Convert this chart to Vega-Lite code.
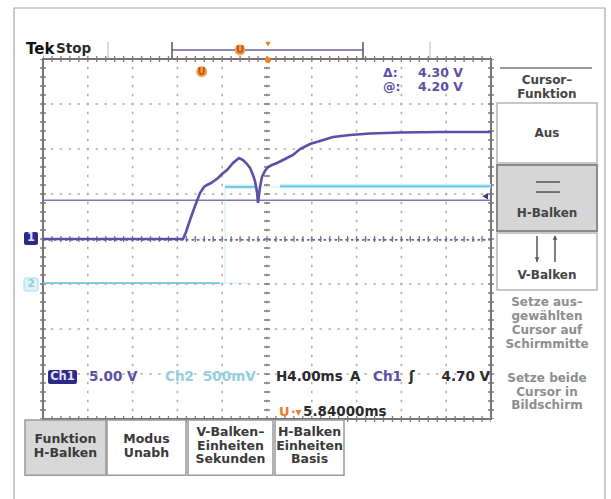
{
  "$schema": "https://vega.github.io/schema/vega-lite/v6.json",
  "width": 611,
  "height": 499,
  "padding": 0,
  "autosize": {"type": "fit", "contains": "padding"},
  "background": "#ffffff",
  "config": {"view": {"stroke": null}},
  "datasets": {
    "frame": [{"x": -5.647, "x2": 7.545, "y": 5.133, "y2": -6}],
    "border": [{"x": -5, "x2": 5, "y": 4, "y2": -4}],
    "gridH": [{"x": -5, "x2": 5, "y": -3}, {"x": -5, "x2": 5, "y": -2}, {"x": -5, "x2": 5, "y": -1}, {"x": -5, "x2": 5, "y": 0}, {"x": -5, "x2": 5, "y": 1}, {"x": -5, "x2": 5, "y": 2}, {"x": -5, "x2": 5, "y": 3}],
    "gridV": [{"x": -4, "y": -4, "y2": 4}, {"x": -3, "y": -4, "y2": 4}, {"x": -2, "y": -4, "y2": 4}, {"x": -1, "y": -4, "y2": 4}, {"x": 0, "y": -4, "y2": 4}, {"x": 1, "y": -4, "y2": 4}, {"x": 2, "y": -4, "y2": 4}, {"x": 3, "y": -4, "y2": 4}, {"x": 4, "y": -4, "y2": 4}],
    "tickH": [{"x": -5, "x2": 5, "y": 4}, {"x": -5, "x2": 5, "y": -4}, {"x": -5, "x2": 5, "y": 0}],
    "tickV": [{"x": -5, "y": -4, "y2": 4}, {"x": 5, "y": -4, "y2": 4}, {"x": 0, "y": -4, "y2": 4}],
    "barLightV": [{"x": -3.549, "y": 4.378, "y2": 4.022}, {"x": 3.638, "y": 4.378, "y2": 4.022}],
    "barDarkV": [{"x": -2.121, "y": 4.378, "y2": 4.022}, {"x": 2.143, "y": 4.378, "y2": 4.022}],
    "barH": [{"x": -2.121, "x2": 2.143, "y": 4.2}],
    "cur1": [{"x": -5, "x2": 5, "y": 0.86}],
    "cur2": [{"x": -5, "x2": 5, "y": -0.02}],
    "ch1": [
      {"x": -5.0, "y": 0}, {"x": -1.875, "y": 0}, {"x": -1.808, "y": 0.156}, {"x": -1.719, "y": 0.422},
      {"x": -1.607, "y": 0.733}, {"x": -1.496, "y": 1.022}, {"x": -1.406, "y": 1.156}, {"x": -1.339, "y": 1.2},
      {"x": -1.25, "y": 1.244}, {"x": -1.183, "y": 1.289}, {"x": -1.094, "y": 1.356}, {"x": -1.004, "y": 1.444},
      {"x": -0.893, "y": 1.533}, {"x": -0.759, "y": 1.689}, {"x": -0.625, "y": 1.8}, {"x": -0.536, "y": 1.756},
      {"x": -0.446, "y": 1.667}, {"x": -0.379, "y": 1.578}, {"x": -0.3125, "y": 1.422}, {"x": -0.268, "y": 1.289},
      {"x": -0.223, "y": 1.044}, {"x": -0.201, "y": 0.8}, {"x": -0.179, "y": 0.978}, {"x": -0.156, "y": 1.156},
      {"x": -0.112, "y": 1.378}, {"x": -0.045, "y": 1.511}, {"x": 0.022, "y": 1.6}, {"x": 0.112, "y": 1.644},
      {"x": 0.223, "y": 1.689}, {"x": 0.402, "y": 1.778}, {"x": 0.58, "y": 1.867}, {"x": 0.737, "y": 2.0},
      {"x": 0.96, "y": 2.111}, {"x": 1.183, "y": 2.178}, {"x": 1.473, "y": 2.267}, {"x": 1.853, "y": 2.311},
      {"x": 2.299, "y": 2.344}, {"x": 2.969, "y": 2.367}, {"x": 3.862, "y": 2.378}, {"x": 5.0, "y": 2.378}
    ],
    "ch2": [
      {"seg": "a", "x": -5, "y": -0.98}, {"seg": "a", "x": -1.05, "y": -0.98},
      {"seg": "b", "x": -0.9375, "y": 1.16}, {"seg": "b", "x": -0.223, "y": 1.16},
      {"seg": "c", "x": 0.29, "y": 1.17}, {"seg": "c", "x": 5, "y": 1.17}
    ],
    "ch2faintH": [{"x": -1.05, "x2": -0.4, "y": -0.98}, {"x": -0.223, "x2": 0.29, "y": 1.16}],
    "ch2faintV": [{"x": -0.9375, "y": -0.98, "y2": 1.16}],
    "panelLine": [{"x": 5.201, "x2": 7.254, "y": 3.8}],
    "hIcon": [{"x": 6.004, "x2": 6.54, "y": 1.267}, {"x": 6.004, "x2": 6.54, "y": 1.044}],
    "vIcon": [{"x": 6.027, "y": 0.067, "y2": -0.511}, {"x": 6.429, "y": 0.067, "y2": -0.511}],
    "panelWhite": [{"x": 5.134, "x2": 7.366, "y": 3.022, "y2": 1.689}, {"x": 5.134, "x2": 7.366, "y": 0.133, "y2": -1.133}],
    "panelGray": [{"x": 5.134, "x2": 7.366, "y": 1.644, "y2": 0.178}],
    "btnGray": [{"x": -5.402, "x2": -3.594, "y": -4.022, "y2": -5.25}],
    "btnWhite": [{"x": -3.571, "x2": -1.808, "y": -4.022, "y2": -5.25}, {"x": -1.763, "x2": 0.134, "y": -4.022, "y2": -5.25}, {"x": 0.179, "x2": 1.719, "y": -4.022, "y2": -5.25}],
    "navyBox": [{"x": -5.424, "x2": -5.112, "y": 0.156, "y2": -0.133}, {"x": -4.888, "x2": -4.241, "y": -2.911, "y2": -3.222}],
    "cyanBox": [{"x": -5.424, "x2": -5.112, "y": -0.867, "y2": -1.156}],
    "orangeCircle": [{"x": -1.458, "y": 3.718}, {"x": -0.603, "y": 4.2}],
    "orangeTri": [{"x": 0.022, "y": 4.333}],
    "orangeDot": [{"x": 0.022, "y": 3.978}],
    "trigArrow": [{"x": 4.87, "y": 0.95}],
    "arrowDown": [{"x": 6.027, "y": -0.45}],
    "arrowUp": [{"x": 6.429, "y": 0.03}],
    "tTek": [{"x": -5.379, "y": 4.222, "t": "Tek"}],
    "tDarkLeft": [
      {"x": -4.71, "y": 4.222, "t": "Stop"},
      {"x": 0.201, "y": -3.067, "t": "H4.00ms"},
      {"x": 1.853, "y": -3.067, "t": "A"},
      {"x": 3.17, "y": -3.067, "t": "ʃ"},
      {"x": 0.804, "y": -3.844, "t": "5.84000ms"}
    ],
    "tDarkRight": [{"x": 4.978, "y": -3.067, "t": "4.70 V"}],
    "tPurpleSmallL": [{"x": 2.589, "y": 3.689, "t": "Δ:"}, {"x": 2.589, "y": 3.378, "t": "@:"}],
    "tPurpleSmallR": [{"x": 4.375, "y": 3.689, "t": "4.30 V"}, {"x": 4.375, "y": 3.378, "t": "4.20 V"}],
    "tPurple": [{"x": -3.973, "y": -3.067, "t": "5.00 V"}, {"x": 2.366, "y": -3.067, "t": "Ch1"}],
    "tCyan": [{"x": -2.277, "y": -3.067, "t": "Ch2"}, {"x": -1.429, "y": -3.067, "t": "500mV"}],
    "tWhite": [{"x": -5.268, "y": 0.022, "t": "1"}, {"x": -4.565, "y": -3.067, "t": "Ch1"}],
    "tCyanMark": [{"x": -5.268, "y": -1.011, "t": "2"}],
    "tOrangeU": [{"x": -1.458, "y": 3.718, "t": "U"}, {"x": -0.603, "y": 4.2, "t": "U"}],
    "tOrangeBottom": [{"x": 0.268, "y": -3.844, "t": "U"}],
    "tOrangeArrow": [{"x": 0.536, "y": -3.844, "t": "·▾"}],
    "tButtons": [
      {"x": -4.498, "y": -4.44, "t": "Funktion"}, {"x": -4.498, "y": -4.75, "t": "H-Balken"},
      {"x": -2.69, "y": -4.44, "t": "Modus"}, {"x": -2.69, "y": -4.75, "t": "Unabh"},
      {"x": -0.815, "y": -4.28, "t": "V-Balken–"}, {"x": -0.815, "y": -4.59, "t": "Einheiten"}, {"x": -0.815, "y": -4.9, "t": "Sekunden"},
      {"x": 0.949, "y": -4.28, "t": "H-Balken"}, {"x": 0.949, "y": -4.59, "t": "Einheiten"}, {"x": 0.949, "y": -4.9, "t": "Basis"}
    ],
    "tPanelDark": [
      {"x": 6.25, "y": 3.533, "t": "Cursor–"}, {"x": 6.25, "y": 3.222, "t": "Funktion"},
      {"x": 6.25, "y": 2.356, "t": "Aus"}, {"x": 6.25, "y": 0.578, "t": "H-Balken"}, {"x": 6.25, "y": -0.8, "t": "V-Balken"}
    ],
    "tPanelGray": [
      {"x": 6.25, "y": -1.4, "t": "Setze aus–"}, {"x": 6.25, "y": -1.711, "t": "gewählten"},
      {"x": 6.25, "y": -2.022, "t": "Cursor auf"}, {"x": 6.25, "y": -2.333, "t": "Schirmmitte"},
      {"x": 6.25, "y": -3.089, "t": "Setze beide"}, {"x": 6.25, "y": -3.4, "t": "Cursor in"},
      {"x": 6.25, "y": -3.689, "t": "Bildschirm"}
    ]
  },
  "encoding": {
    "x": {"field": "x", "type": "quantitative", "scale": {"domain": [-5.9598, 7.6786], "nice": false, "zero": false}, "axis": null},
    "y": {"field": "y", "type": "quantitative", "scale": {"domain": [-5.7778, 5.3111], "nice": false, "zero": false}, "axis": null}
  },
  "layer": [
    {"data": {"name": "frame"}, "mark": {"type": "rect", "fill": null, "stroke": "#a8a8a8", "strokeWidth": 1.2, "clip": true}, "encoding": {"x2": {"field": "x2"}, "y2": {"field": "y2"}}},
    {"data": {"name": "gridH"}, "mark": {"type": "rule", "color": "#b3adad", "strokeWidth": 1.6, "strokeDash": [2.5, 6.46], "strokeDashOffset": 1.25}, "encoding": {"x2": {"field": "x2"}}},
    {"data": {"name": "gridV"}, "mark": {"type": "rule", "color": "#b3adad", "strokeWidth": 1.6, "strokeDash": [2.5, 6.5], "strokeDashOffset": 1.25}, "encoding": {"y2": {"field": "y2"}}},
    {"data": {"name": "tickH"}, "mark": {"type": "rule", "color": "#7f7878", "strokeWidth": 6, "strokeDash": [1.3, 7.66], "strokeDashOffset": 0.65}, "encoding": {"x2": {"field": "x2"}}},
    {"data": {"name": "tickV"}, "mark": {"type": "rule", "color": "#7f7878", "strokeWidth": 6, "strokeDash": [1.3, 7.7], "strokeDashOffset": 0.65}, "encoding": {"y2": {"field": "y2"}}},
    {"data": {"name": "border"}, "mark": {"type": "rect", "fill": null, "stroke": "#7a7373", "strokeWidth": 2}, "encoding": {"x2": {"field": "x2"}, "y2": {"field": "y2"}}},
    {"data": {"name": "barLightV"}, "mark": {"type": "rule", "color": "#cfcfcf", "strokeWidth": 1.5}, "encoding": {"y2": {"field": "y2"}}},
    {"data": {"name": "barH"}, "mark": {"type": "rule", "color": "#8c88b6", "strokeWidth": 2}, "encoding": {"x2": {"field": "x2"}}},
    {"data": {"name": "barDarkV"}, "mark": {"type": "rule", "color": "#555555", "strokeWidth": 1.5}, "encoding": {"y2": {"field": "y2"}}},
    {"data": {"name": "cur1"}, "mark": {"type": "rule", "color": "#7f77bd", "strokeWidth": 1.6}, "encoding": {"x2": {"field": "x2"}}},
    {"data": {"name": "cur2"}, "mark": {"type": "rule", "color": "#6a62b0", "strokeWidth": 1.6, "strokeDash": [2.5, 3]}, "encoding": {"x2": {"field": "x2"}}},
    {"data": {"name": "ch2faintH"}, "mark": {"type": "rule", "color": "#9fd8e6", "strokeWidth": 1.5, "opacity": 0.3}, "encoding": {"x2": {"field": "x2"}}},
    {"data": {"name": "ch2faintV"}, "mark": {"type": "rule", "color": "#9fd8e6", "strokeWidth": 1.5, "opacity": 0.3}, "encoding": {"y2": {"field": "y2"}}},
    {"data": {"name": "ch2"}, "transform": [{"filter": "datum.seg != 'a'"}], "mark": {"type": "line", "color": "#cdeef5", "strokeWidth": 4.5}, "encoding": {"detail": {"field": "seg"}}},
    {"data": {"name": "ch2"}, "mark": {"type": "line", "color": "#6cc5d9", "strokeWidth": 1.8}, "encoding": {"detail": {"field": "seg"}}},
    {"data": {"name": "ch1"}, "mark": {"type": "line", "color": "#5a50a8", "strokeWidth": 2.6}, "encoding": {}},
    {"data": {"name": "trigArrow"}, "mark": {"type": "point", "shape": "triangle-left", "filled": true, "color": "#3c3690", "size": 45, "opacity": 1}, "encoding": {}},
    {"data": {"name": "orangeCircle"}, "mark": {"type": "point", "shape": "circle", "filled": true, "color": "#f3a24c", "size": 120, "opacity": 1}, "encoding": {}},
    {"data": {"name": "orangeTri"}, "mark": {"type": "point", "shape": "triangle-down", "filled": true, "color": "#ef7f22", "size": 30, "opacity": 1}, "encoding": {}},
    {"data": {"name": "orangeDot"}, "mark": {"type": "point", "shape": "circle", "filled": true, "color": "#ef7f22", "size": 35, "opacity": 1}, "encoding": {}},
    {"data": {"name": "panelWhite"}, "mark": {"type": "rect", "fill": "#ffffff", "stroke": "#b5b5b5", "strokeWidth": 1.5}, "encoding": {"x2": {"field": "x2"}, "y2": {"field": "y2"}}},
    {"data": {"name": "panelGray"}, "mark": {"type": "rect", "fill": "#d6d6d6", "stroke": "#8a8a8a", "strokeWidth": 2}, "encoding": {"x2": {"field": "x2"}, "y2": {"field": "y2"}}},
    {"data": {"name": "panelLine"}, "mark": {"type": "rule", "color": "#9a9a9a", "strokeWidth": 2}, "encoding": {"x2": {"field": "x2"}}},
    {"data": {"name": "hIcon"}, "mark": {"type": "rule", "color": "#555555", "strokeWidth": 1.5}, "encoding": {"x2": {"field": "x2"}}},
    {"data": {"name": "vIcon"}, "mark": {"type": "rule", "color": "#555555", "strokeWidth": 1.5}, "encoding": {"y2": {"field": "y2"}}},
    {"data": {"name": "arrowDown"}, "mark": {"type": "point", "shape": "triangle-down", "filled": true, "color": "#555555", "size": 22, "opacity": 1}, "encoding": {}},
    {"data": {"name": "arrowUp"}, "mark": {"type": "point", "shape": "triangle-up", "filled": true, "color": "#555555", "size": 22, "opacity": 1}, "encoding": {}},
    {"data": {"name": "btnGray"}, "mark": {"type": "rect", "fill": "#d8d8d8", "stroke": "#9a9a9a", "strokeWidth": 1.5}, "encoding": {"x2": {"field": "x2"}, "y2": {"field": "y2"}}},
    {"data": {"name": "btnWhite"}, "mark": {"type": "rect", "fill": "#ffffff", "stroke": "#9a9a9a", "strokeWidth": 1.5}, "encoding": {"x2": {"field": "x2"}, "y2": {"field": "y2"}}},
    {"data": {"name": "navyBox"}, "mark": {"type": "rect", "fill": "#2e2a86", "cornerRadius": 2}, "encoding": {"x2": {"field": "x2"}, "y2": {"field": "y2"}}},
    {"data": {"name": "cyanBox"}, "mark": {"type": "rect", "fill": "#dff3f7", "stroke": "#a8dde8", "strokeWidth": 1, "cornerRadius": 2}, "encoding": {"x2": {"field": "x2"}, "y2": {"field": "y2"}}},
    {"data": {"name": "tTek"}, "mark": {"type": "text", "font": "DejaVu Sans", "fontWeight": "bold", "fontSize": 15, "align": "left", "baseline": "middle", "color": "#111111", "letterSpacing": -1}, "encoding": {"text": {"field": "t"}}},
    {"data": {"name": "tDarkLeft"}, "mark": {"type": "text", "font": "DejaVu Sans", "fontWeight": "bold", "fontSize": 13.5, "align": "left", "baseline": "middle", "color": "#2b2b2b"}, "encoding": {"text": {"field": "t"}}},
    {"data": {"name": "tDarkRight"}, "mark": {"type": "text", "font": "DejaVu Sans", "fontWeight": "bold", "fontSize": 13.5, "align": "right", "baseline": "middle", "color": "#2b2b2b"}, "encoding": {"text": {"field": "t"}}},
    {"data": {"name": "tPurpleSmallL"}, "mark": {"type": "text", "font": "DejaVu Sans", "fontWeight": "bold", "fontSize": 12.5, "align": "left", "baseline": "middle", "color": "#5a50a8"}, "encoding": {"text": {"field": "t"}}},
    {"data": {"name": "tPurpleSmallR"}, "mark": {"type": "text", "font": "DejaVu Sans", "fontWeight": "bold", "fontSize": 12.5, "align": "right", "baseline": "middle", "color": "#5a50a8"}, "encoding": {"text": {"field": "t"}}},
    {"data": {"name": "tPurple"}, "mark": {"type": "text", "font": "DejaVu Sans", "fontWeight": "bold", "fontSize": 13.5, "align": "left", "baseline": "middle", "color": "#5a50a8"}, "encoding": {"text": {"field": "t"}}},
    {"data": {"name": "tCyan"}, "mark": {"type": "text", "font": "DejaVu Sans", "fontWeight": "bold", "fontSize": 13.5, "align": "left", "baseline": "middle", "color": "#94d0de"}, "encoding": {"text": {"field": "t"}}},
    {"data": {"name": "tWhite"}, "mark": {"type": "text", "font": "DejaVu Sans", "fontWeight": "bold", "fontSize": 11.5, "align": "center", "baseline": "middle", "color": "#e4e2ff"}, "encoding": {"text": {"field": "t"}}},
    {"data": {"name": "tCyanMark"}, "mark": {"type": "text", "font": "DejaVu Sans", "fontWeight": "bold", "fontSize": 11, "align": "center", "baseline": "middle", "color": "#8fd0df"}, "encoding": {"text": {"field": "t"}}},
    {"data": {"name": "tOrangeU"}, "mark": {"type": "text", "font": "DejaVu Sans", "fontWeight": "bold", "fontSize": 10, "align": "center", "baseline": "middle", "color": "#c4540c"}, "encoding": {"text": {"field": "t"}}},
    {"data": {"name": "tOrangeBottom"}, "mark": {"type": "text", "font": "DejaVu Sans", "fontWeight": "bold", "fontSize": 13, "align": "left", "baseline": "middle", "color": "#ec7d22"}, "encoding": {"text": {"field": "t"}}},
    {"data": {"name": "tOrangeArrow"}, "mark": {"type": "text", "font": "DejaVu Sans", "fontWeight": "bold", "fontSize": 12, "align": "left", "baseline": "middle", "color": "#ec7d22"}, "encoding": {"text": {"field": "t"}}},
    {"data": {"name": "tButtons"}, "mark": {"type": "text", "font": "DejaVu Sans", "fontWeight": "bold", "fontSize": 12.5, "align": "center", "baseline": "middle", "color": "#3a3a3a"}, "encoding": {"text": {"field": "t"}}},
    {"data": {"name": "tPanelDark"}, "mark": {"type": "text", "font": "DejaVu Sans", "fontWeight": "bold", "fontSize": 12, "align": "center", "baseline": "middle", "color": "#454545"}, "encoding": {"text": {"field": "t"}}},
    {"data": {"name": "tPanelGray"}, "mark": {"type": "text", "font": "DejaVu Sans", "fontWeight": "bold", "fontSize": 12, "align": "center", "baseline": "middle", "color": "#8e8e8e"}, "encoding": {"text": {"field": "t"}}}
  ]
}
